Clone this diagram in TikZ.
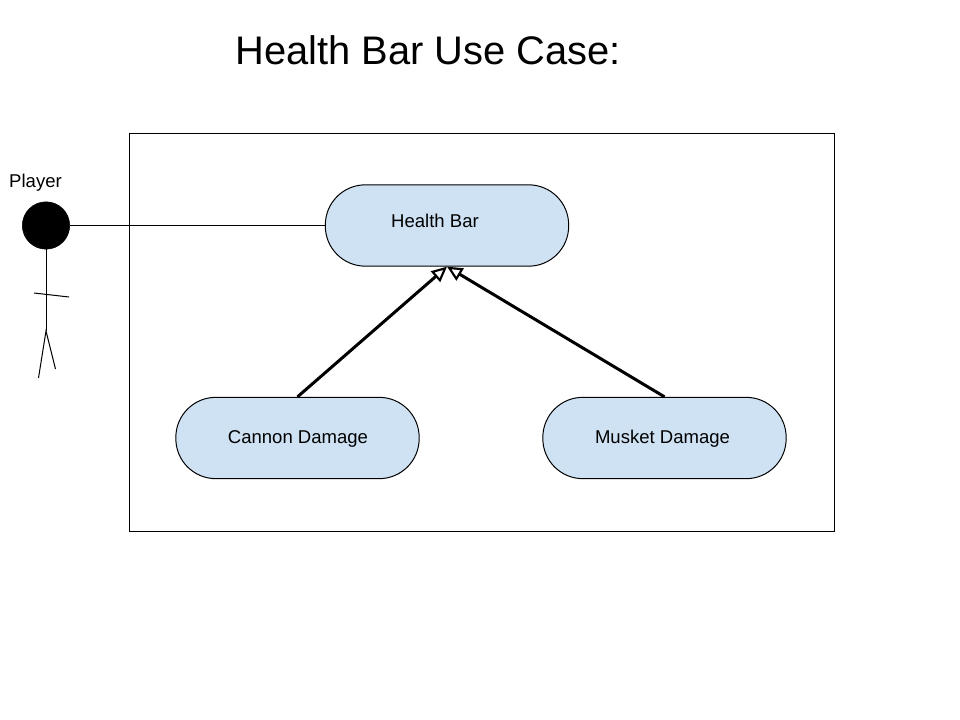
\documentclass[tikz,border=0pt]{standalone}
\usepackage{fontspec}
\setmainfont{Liberation Sans}
\usetikzlibrary{arrows.meta}
\definecolor{casefill}{RGB}{207,226,243}

\begin{document}
\begin{tikzpicture}[
        x=0.75pt, y=-0.75pt,
        font=\fontsize{13.9}{16}\selectfont,
        usecase/.style={rectangle, rounded corners=30pt, draw, fill=casefill, line width=0.75pt, minimum width=182.5pt, minimum height=61pt, inner sep=0pt},
        label/.style={inner sep=0pt, text=black},
        stick/.style={line width=0.75pt},
        arrow/.style={-{Triangle[open, length=11.5pt, width=10.5pt, line width=1.6pt]}, line width=2.25pt}
    ]
        \useasboundingbox (0,0) rectangle (960,720);
        \fill[white] (0,0) rectangle (960,720);

        \node[label, font=\fontsize{29.9}{32}\selectfont] (title) at (428,50) {Health Bar Use Case:};
        \node[draw, line width=0.75pt, minimum width=528.75pt, minimum height=298.5pt, inner sep=0pt] (frame) at (482,332.5) {};

        \node[usecase] (health) at (447,225.5) {};
        \node[usecase] (cannon) at (297.5,438) {};
        \node[usecase] (musket) at (664.5,438) {};
        \node[label] (healthtext) at (435,221) {Health Bar};
        \node[label] (cannontext) at (298,439) {Cannon Damage};
        \node[label] (musketext) at (662.5,439) {Musket Damage};

        \node[label] (playertext) at (35.5,183) {Player};
        \node[circle, draw, fill=black, minimum size=35.5pt, inner sep=0pt] (player) at (46,225.5) {};
        \coordinate (hip) at (46,331);
        \coordinate (armleft) at (34,293);
        \coordinate (armright) at (69,297);
        \coordinate (footleft) at (38.5,378);
        \coordinate (footright) at (55.5,369);

        \draw[stick] (player.south) -- (hip);
        \draw[stick] (armleft) -- (armright);
        \draw[stick] (footleft) -- (hip) -- (footright);
        \draw[stick] (player.east) -- (health.west);

        \draw[arrow] (cannon.north) -- (health.south);
        \draw[arrow] (musket.north) -- (health.south);
    \end{tikzpicture}
\end{document}
